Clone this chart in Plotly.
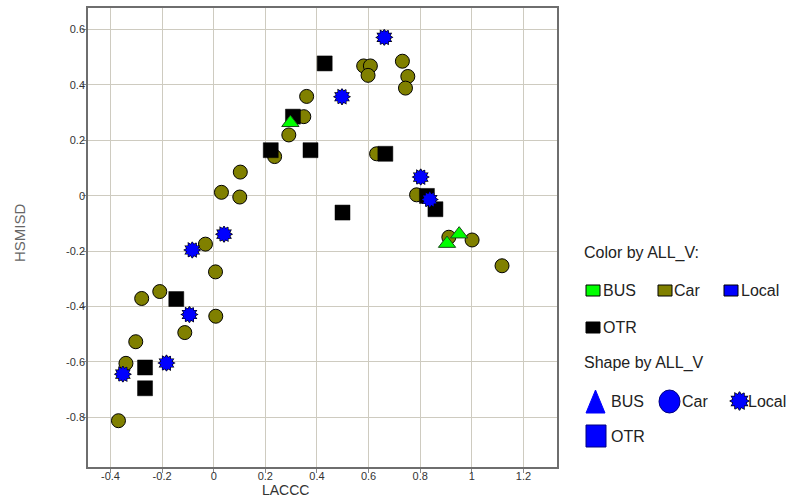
import plotly.graph_objects as go

# ---- data (LACCC, HSMISD) by ALL_V ----
bus_x = [0.297, 0.951, 0.904]
bus_y = [0.263, -0.139, -0.173]

car_x = [0.360, 0.349, 0.291, 0.236, 0.103, 0.030, 0.101, -0.032, 0.581, 0.607,
         0.598, 0.731, 0.752, 0.743, 0.631, 0.786, 0.911, 1.001, 1.117, 0.007,
         -0.209, -0.279, 0.008, -0.112, -0.302, -0.340, -0.369]
car_y = [0.358, 0.285, 0.219, 0.141, 0.085, 0.012, -0.005, -0.175, 0.468, 0.468,
         0.434, 0.485, 0.430, 0.388, 0.151, 0.003, -0.150, -0.160, -0.253, -0.275,
         -0.346, -0.371, -0.435, -0.494, -0.527, -0.605, -0.812]

otr_x = [0.430, 0.307, 0.221, 0.375, 0.665, 0.826, 0.859, 0.499, -0.145, -0.266, -0.266]
otr_y = [0.477, 0.285, 0.164, 0.164, 0.151, -0.001, -0.049, -0.061, -0.373, -0.620, -0.695]

local_x = [0.661, 0.497, 0.802, 0.837, 0.040, -0.083, -0.094, -0.183, -0.352]
local_y = [0.571, 0.357, 0.067, -0.014, -0.139, -0.196, -0.429, -0.604, -0.644]

x_ticks = [-0.4, -0.2, 0, 0.2, 0.4, 0.6, 0.8, 1, 1.2]
x_tick_labels = ["-0.4", "-0.2", "0", "0.2", "0.4", "0.6", "0.8", "1", "1.2"]
y_ticks = [-0.8, -0.6, -0.4, -0.2, 0, 0.2, 0.4, 0.6]
y_tick_labels = ["-0.8", "-0.6", "-0.4", "-0.2", "0", "0.2", "0.4", "0.6"]

legend_groups = ["BUS", "Car", "Local", "OTR"]
group_colors = {"BUS": "#00ff00", "Car": "#808000", "Local": "#0000ff", "OTR": "#000000"}

W, H = 796, 500
FONT = "Arial, Liberation Sans, sans-serif"

fig = go.Figure()

# circles (Car)
fig.add_trace(go.Scatter(x=car_x, y=car_y, mode="markers",
    marker=dict(symbol="circle", size=14, color=group_colors["Car"],
                line=dict(color="#000000", width=1)), cliponaxis=False))
# squares (OTR)
fig.add_trace(go.Scatter(x=otr_x, y=otr_y, mode="markers",
    marker=dict(symbol="square", size=15, color=group_colors["OTR"],
                line=dict(color="#000000", width=0.5)), cliponaxis=False))
# stars (Local): two hexagrams rotated, outline layer then fill layer
lx2 = local_x + local_x
ly2 = local_y + local_y
angs = [0] * len(local_x) + [30] * len(local_x)
fig.add_trace(go.Scatter(x=lx2, y=ly2, mode="markers",
    marker=dict(symbol="hexagram", size=12, color="#000000", angle=angs,
                line=dict(color="#000000", width=1.2)), cliponaxis=False))
fig.add_trace(go.Scatter(x=lx2, y=ly2, mode="markers",
    marker=dict(symbol="hexagram", size=12, color=group_colors["Local"], angle=angs,
                line=dict(width=0)), cliponaxis=False))
# triangles (BUS)
fig.add_trace(go.Scatter(x=bus_x, y=bus_y, mode="markers",
    marker=dict(symbol="triangle-up", size=15, color=group_colors["BUS"],
                line=dict(color="#1a4a1a", width=1)), cliponaxis=False))

# ---- legend in pixel coords on overlay axes ----
px = dict(xaxis="x2", yaxis="y2")
sx = [739.5, 739.5]
sy = [401, 401]
fig.add_trace(go.Scatter(x=sx, y=sy, mode="markers", **px,
    marker=dict(symbol="hexagram", size=14, color="#000000", angle=[0, 30],
                line=dict(color="#000000", width=1.2)), cliponaxis=False))
fig.add_trace(go.Scatter(x=sx, y=sy, mode="markers", **px,
    marker=dict(symbol="hexagram", size=14, color="#0000ff", angle=[0, 30],
                line=dict(width=0)), cliponaxis=False))

shapes = []
sw = {"BUS": (586, 285), "Car": (658, 285), "Local": (724, 285), "OTR": (586, 322)}
for g in legend_groups:
    x0, y0 = sw[g]
    shapes.append(dict(type="rect", xref="x2", yref="y2", x0=x0, x1=x0 + 14, y0=y0, y1=y0 + 11,
                       fillcolor=group_colors[g], line=dict(color="#000000", width=1)))
shapes.append(dict(type="path", xref="x2", yref="y2", path="M 586 413 L 605 413 L 595.5 390 Z",
                   fillcolor="#0000ff", line=dict(color="#0000ff", width=1)))
shapes.append(dict(type="circle", xref="x2", yref="y2", x0=659, x1=680, y0=390, y1=413,
                   fillcolor="#0000ff", line=dict(color="#000080", width=1)))
shapes.append(dict(type="rect", xref="x2", yref="y2", x0=586, x1=606, y0=425, y1=447,
                   fillcolor="#0000ff", line=dict(color="#000080", width=1)))

annotations = []
def txt(x, y, s, size=16, color="#222222"):
    annotations.append(dict(xref="x2", yref="y2", x=x, y=y, text=s, showarrow=False,
                            xanchor="left", yanchor="middle",
                            font=dict(family=FONT, size=size, color=color)))
txt(582, 253, "Color by ALL_V:")
txt(601, 290, "BUS")
txt(672, 290, "Car")
txt(739, 290, "Local")
txt(601, 327, "OTR")
txt(582, 363, "Shape by ALL_V")
txt(609, 401, "BUS")
txt(680, 401, "Car")
txt(746, 401, "Local")
txt(609, 436, "OTR")

annotations.append(dict(xref="x2", yref="y2", x=285, y=490, text="LACCC", showarrow=False,
                        xanchor="center", yanchor="middle",
                        font=dict(family=FONT, size=14, color="#333333")))
annotations.append(dict(xref="x2", yref="y2", x=19, y=233, text="HSMISD", showarrow=False,
                        textangle=-90, xanchor="center", yanchor="middle",
                        font=dict(family=FONT, size=15, color="#666666")))

grid_c = "#cecbc0"
frame_c = "#6e6e6e"
fig.update_layout(
    width=W, height=H, margin=dict(l=0, r=0, t=0, b=0),
    paper_bgcolor="white", plot_bgcolor="rgba(0,0,0,0)", showlegend=False,
    xaxis=dict(domain=[88 / W, 557 / W], range=[-0.487, 1.33], tickvals=x_ticks,
               ticktext=x_tick_labels, showgrid=True, gridcolor=grid_c, gridwidth=1,
               zeroline=False, showline=True, linecolor=frame_c, linewidth=1.5, mirror=True,
               ticks="outside", ticklen=4, tickcolor="#888888", ticklabelstandoff=-6,
               tickfont=dict(family=FONT, size=11, color="#333333")),
    yaxis=dict(domain=[(H - 467) / H, (H - 8) / H], range=[-0.979, 0.677], tickvals=y_ticks,
               ticktext=y_tick_labels, showgrid=True, gridcolor=grid_c, gridwidth=1,
               zeroline=False, showline=True, linecolor=frame_c, linewidth=1.5, mirror=True,
               ticks="outside", ticklen=4, tickcolor="#888888", ticklabelstandoff=-5,
               tickfont=dict(family=FONT, size=11, color="#333333")),
    xaxis2=dict(domain=[0, 1], range=[0, W], visible=False, anchor="y2", fixedrange=True),
    yaxis2=dict(domain=[0, 1], range=[H, 0], visible=False, anchor="x2", fixedrange=True),
    shapes=shapes, annotations=annotations,
)

fig.write_html("out.html", config={"displayModeBar": False},
               post_script="document.body.style.margin='0';document.body.style.overflow='hidden';")
